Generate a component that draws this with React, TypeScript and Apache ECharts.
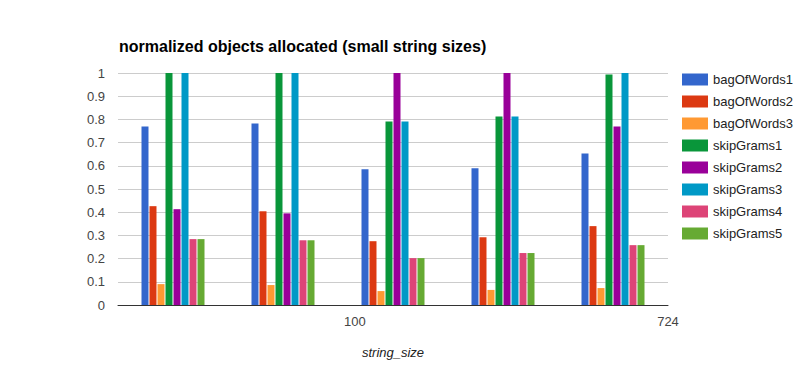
import React, { useEffect, useRef } from "react";
import * as echarts from "echarts";

const categories = ["s1", "s2", "s3", "s4", "s5"];
const seriesNames = [
  "bagOfWords1",
  "bagOfWords2",
  "bagOfWords3",
  "skipGrams1",
  "skipGrams2",
  "skipGrams3",
  "skipGrams4",
  "skipGrams5",
];
const bagOfWords1 = [0.769, 0.782, 0.585, 0.589, 0.653];
const bagOfWords2 = [0.426, 0.404, 0.275, 0.292, 0.34];
const bagOfWords3 = [0.09, 0.086, 0.06, 0.065, 0.073];
const skipGrams1 = [1.0, 1.0, 0.791, 0.812, 0.993];
const skipGrams2 = [0.413, 0.395, 1.0, 1.0, 0.769];
const skipGrams3 = [1.0, 1.0, 0.791, 0.812, 1.0];
const skipGrams4 = [0.284, 0.279, 0.202, 0.224, 0.258];
const skipGrams5 = [0.284, 0.279, 0.202, 0.224, 0.258];
const seriesValues = [
  bagOfWords1,
  bagOfWords2,
  bagOfWords3,
  skipGrams1,
  skipGrams2,
  skipGrams3,
  skipGrams4,
  skipGrams5,
];
const xTickValues = [100, 724];
const xTickRange = [-372, 724];
const colors = [
  "#3366cc",
  "#dc3912",
  "#ff9933",
  "#09963a",
  "#990099",
  "#0099c6",
  "#dd4477",
  "#66aa33",
];

export default function App() {
  const ref = useRef<HTMLDivElement>(null);
  useEffect(() => {
    if (!ref.current) return;
    const chart = echarts.init(ref.current, undefined, { renderer: "svg" });
    chart.setOption({
      animation: false,
      color: colors,
      title: {
        text: "normalized objects allocated (small string sizes)",
        left: 119,
        top: 38,
        padding: 0,
        textStyle: {
          fontFamily: "Liberation Sans, Arial, sans-serif",
          fontSize: 16,
          fontWeight: "bold",
          color: "#000",
        },
      },
      legend: {
        orient: "vertical",
        left: 682,
        top: 73,
        padding: 0,
        itemWidth: 26,
        itemHeight: 12,
        itemGap: 9,
        icon: "rect",
        textStyle: {
          fontFamily: "Liberation Sans, Arial, sans-serif",
          fontSize: 13,
          color: "#222",
          lineHeight: 12,
        },
        data: seriesNames,
      },
      grid: { left: 118, right: 141, top: 73, bottom: 73, containLabel: false },
      xAxis: [
        {
          type: "category",
          data: categories,
          axisLine: { lineStyle: { color: "#333", width: 1 } },
          axisTick: { show: false },
          axisLabel: { show: false },
          name: "string_size",
          nameLocation: "middle",
          nameGap: 41,
          nameTextStyle: {
            fontFamily: "Liberation Sans, Arial, sans-serif",
            fontSize: 13,
            fontStyle: "italic",
            color: "#222",
          },
        },
        {
          type: "value",
          position: "bottom",
          min: xTickRange[0],
          max: xTickRange[1],
          axisLine: { show: false },
          axisTick: { show: false },
          splitLine: { show: false },
          axisLabel: {
            customValues: xTickValues,
            margin: 10,
            fontFamily: "Liberation Sans, Arial, sans-serif",
            fontSize: 13,
            color: "#444",
            formatter: (v: number) => String(v),
          },
        },
      ],
      yAxis: {
        type: "value",
        min: 0,
        max: 1,
        interval: 0.1,
        axisLine: { show: false },
        axisTick: { show: false },
        splitLine: { lineStyle: { color: "#cccccc", width: 1 } },
        axisLabel: {
          margin: 13,
          fontFamily: "Liberation Sans, Arial, sans-serif",
          fontSize: 13,
          color: "#444",
          formatter: (v: number) => String(Math.round(v * 10) / 10),
        },
      },
      series: seriesNames.map((name, i) => ({
        name,
        type: "bar",
        xAxisIndex: 0,
        data: seriesValues[i],
        barWidth: 7,
        barGap: "14.3%",
        barCategoryGap: "0%",
      })),
    });
    return () => chart.dispose();
  }, []);
  return (
    <div
      ref={ref}
      style={{ position: "fixed", left: 0, top: 0, width: 809, height: 378, background: "#fff" }}
    />
  );
}
